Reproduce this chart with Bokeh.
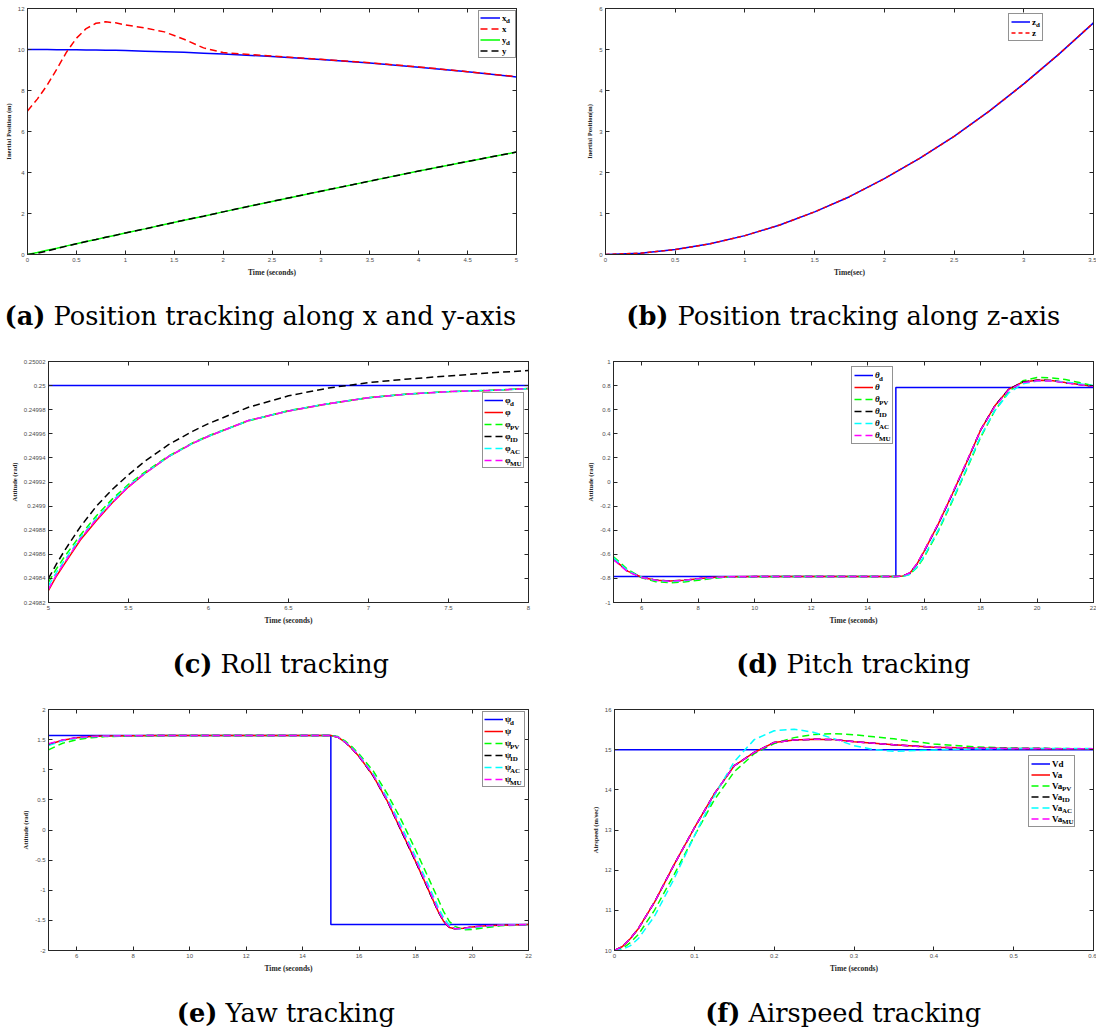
from bokeh.plotting import figure
from bokeh.models import (Range1d, FixedTicker, CustomJSTickFormatter, LinearAxis,
                          Legend, LegendItem, Label)
from bokeh.layouts import column, row
from bokeh.core.properties import value
from bokeh.embed import file_html
from bokeh.resources import INLINE

# ---------------- data ----------------
# (a) position tracking x / y
ta = [0, 0.1, 0.2, 0.3, 0.4, 0.5, 0.6, 0.7, 0.8, 0.9, 1.0, 1.2, 1.4, 1.6, 1.8, 2.0, 2.5, 3.0, 3.5, 4.0, 4.5, 5.0]
xd = [10.0, 10.0, 10.0, 9.99, 9.99, 9.99, 9.98, 9.97, 9.96, 9.96, 9.95, 9.92, 9.89, 9.86, 9.82, 9.78, 9.66, 9.51, 9.34, 9.14, 8.91, 8.66]
xa = [7.0, 7.58, 8.25, 9.05, 9.88, 10.55, 11.02, 11.28, 11.35, 11.3, 11.2, 11.05, 10.86, 10.5, 10.08, 9.85, 9.68, 9.52, 9.35, 9.15, 8.92, 8.67]
yd = [0, 0.1, 0.21, 0.31, 0.42, 0.52, 0.63, 0.73, 0.84, 0.94, 1.05, 1.25, 1.46, 1.67, 1.87, 2.08, 2.59, 3.09, 3.58, 4.07, 4.54, 5.0]
ya = [0, 0.06, 0.17, 0.29, 0.41, 0.52, 0.63, 0.73, 0.84, 0.94, 1.05, 1.25, 1.46, 1.67, 1.87, 2.08, 2.59, 3.09, 3.58, 4.07, 4.54, 5.0]
a_xticks = [0, 0.5, 1, 1.5, 2, 2.5, 3, 3.5, 4, 4.5, 5]
a_yticks = [0, 2, 4, 6, 8, 10, 12]

# (b) position tracking z  (values in units of 1e-3 m)
tb = [0, 0.25, 0.5, 0.75, 1, 1.25, 1.5, 1.75, 2, 2.25, 2.5, 2.75, 3, 3.25, 3.5]
zd_e3 = [0, 0.03, 0.12, 0.26, 0.46, 0.72, 1.04, 1.41, 1.85, 2.34, 2.88, 3.49, 4.16, 4.88, 5.65]
za_e3 = [0, 0.03, 0.12, 0.26, 0.46, 0.72, 1.04, 1.41, 1.85, 2.34, 2.88, 3.49, 4.16, 4.88, 5.65]
b_xticks = [0, 0.5, 1, 1.5, 2, 2.5, 3, 3.5]
b_yticks = [0, 1, 2, 3, 4, 5, 6]

# (c) roll tracking
tc = [5, 5.05, 5.1, 5.2, 5.3, 5.4, 5.5, 5.6, 5.75, 5.9, 6, 6.25, 6.5, 6.75, 7, 7.25, 7.5, 7.75, 8]
phid_t = [5, 8]
phid = [0.25, 0.25]
phi = [0.24983, 0.249842, 0.249852, 0.249872, 0.249888, 0.249903, 0.249916, 0.249927, 0.249941, 0.249952,
       0.249958, 0.249971, 0.249979, 0.249985, 0.24999, 0.249993, 0.249995, 0.249996, 0.2499975]
phi_pv = [0.249837, 0.249848, 0.249858, 0.249876, 0.249892, 0.249906, 0.249918, 0.249928, 0.2499415, 0.2499525,
          0.2499585, 0.2499707, 0.2499793, 0.249985, 0.24999, 0.249993, 0.249995, 0.249996, 0.2499975]
phi_id = [0.24984, 0.249852, 0.249863, 0.249883, 0.2499, 0.249914, 0.249926, 0.249937, 0.249951, 0.249962,
          0.2499685, 0.249982, 0.2499915, 0.249998, 0.2500025, 0.2500055, 0.250008, 0.2500105, 0.2500125]
phi_ac = [0.249834, 0.249845, 0.249855, 0.249874, 0.24989, 0.2499045, 0.249917, 0.249927, 0.249941, 0.249952,
          0.249958, 0.249971, 0.249979, 0.249985, 0.24999, 0.249993, 0.249995, 0.249996, 0.2499975]
phi_mu = [0.249831, 0.249843, 0.249853, 0.249873, 0.249889, 0.249903, 0.249916, 0.249927, 0.249941, 0.249952,
          0.249958, 0.249971, 0.249979, 0.249985, 0.24999, 0.249993, 0.249995, 0.249996, 0.2499975]
c_xticks = [5, 5.5, 6, 6.5, 7, 7.5, 8]
c_yticks = [0.24982, 0.24984, 0.24986, 0.24988, 0.2499, 0.24992, 0.24994, 0.24996, 0.24998, 0.25, 0.25002]

# (d) pitch tracking
td = [5, 5.5, 6, 6.5, 7, 7.5, 8, 8.5, 9, 10, 11, 12, 13, 14, 15, 15.25, 15.5, 15.75, 16, 16.5, 17, 17.5,
      18, 18.5, 19, 19.5, 20, 20.5, 21, 21.5, 22]
thd_t = [5, 15, 15, 22]
thd = [-0.785, -0.785, 0.785, 0.785]
th = [-0.64, -0.74, -0.79, -0.815, -0.822, -0.815, -0.802, -0.792, -0.787, -0.785, -0.785, -0.785, -0.785, -0.785,
      -0.785, -0.78, -0.755, -0.68, -0.575, -0.35, -0.1, 0.16, 0.43, 0.63, 0.77, 0.83, 0.845, 0.842, 0.825, 0.81, 0.795]
th_pv = [-0.62, -0.725, -0.795, -0.828, -0.836, -0.83, -0.815, -0.8, -0.79, -0.786, -0.785, -0.785, -0.785, -0.785,
         -0.785, -0.783, -0.765, -0.71, -0.625, -0.41, -0.16, 0.1, 0.37, 0.59, 0.75, 0.84, 0.868, 0.865, 0.85, 0.825, 0.8]
th_id = [-0.64, -0.74, -0.79, -0.815, -0.822, -0.815, -0.802, -0.792, -0.787, -0.785, -0.785, -0.785, -0.785, -0.785,
         -0.785, -0.78, -0.755, -0.68, -0.575, -0.35, -0.1, 0.16, 0.43, 0.63, 0.77, 0.83, 0.845, 0.842, 0.825, 0.81, 0.795]
th_ac = [-0.63, -0.735, -0.79, -0.818, -0.826, -0.82, -0.806, -0.795, -0.788, -0.785, -0.785, -0.785, -0.785, -0.785,
         -0.785, -0.783, -0.765, -0.705, -0.615, -0.4, -0.15, 0.11, 0.38, 0.59, 0.74, 0.815, 0.838, 0.84, 0.83, 0.815, 0.8]
th_mu = [-0.645, -0.745, -0.792, -0.816, -0.823, -0.816, -0.803, -0.792, -0.787, -0.785, -0.785, -0.785, -0.785, -0.785,
         -0.785, -0.78, -0.753, -0.678, -0.572, -0.345, -0.095, 0.165, 0.43, 0.625, 0.765, 0.825, 0.84, 0.838, 0.823, 0.808, 0.795]
d_xticks = [6, 8, 10, 12, 14, 16, 18, 20, 22]
d_yticks = [-1, -0.8, -0.6, -0.4, -0.2, 0, 0.2, 0.4, 0.6, 0.8, 1]

# (e) yaw tracking
te = [5, 5.5, 6, 6.5, 7, 8, 9, 10, 12, 14, 15, 15.25, 15.5, 15.75, 16, 16.5, 17, 17.5, 18, 18.5, 18.8, 19, 19.2,
      19.4, 19.7, 20, 20.5, 21, 22]
psd_t = [5, 15, 15, 22]
psd = [1.57, 1.57, -1.57, -1.57]
ps = [1.42, 1.49, 1.53, 1.55, 1.56, 1.565, 1.568, 1.57, 1.57, 1.57, 1.57, 1.54, 1.46, 1.35, 1.22, 0.9, 0.48, -0.02,
      -0.52, -1.04, -1.35, -1.52, -1.62, -1.64, -1.63, -1.61, -1.59, -1.58, -1.57]
ps_pv = [1.33, 1.44, 1.5, 1.53, 1.55, 1.562, 1.567, 1.57, 1.57, 1.57, 1.57, 1.55, 1.48, 1.38, 1.26, 0.98, 0.6, 0.16,
         -0.33, -0.84, -1.15, -1.36, -1.52, -1.6, -1.655, -1.65, -1.62, -1.59, -1.57]
ps_id = [1.42, 1.49, 1.53, 1.55, 1.56, 1.565, 1.568, 1.57, 1.57, 1.57, 1.57, 1.54, 1.46, 1.35, 1.22, 0.9, 0.48, -0.02,
         -0.52, -1.04, -1.35, -1.52, -1.62, -1.64, -1.63, -1.61, -1.59, -1.58, -1.57]
ps_ac = [1.4, 1.48, 1.525, 1.548, 1.558, 1.565, 1.568, 1.57, 1.57, 1.57, 1.57, 1.545, 1.465, 1.36, 1.24, 0.93, 0.53,
         0.06, -0.44, -0.96, -1.28, -1.46, -1.58, -1.635, -1.645, -1.62, -1.6, -1.58, -1.57]
ps_mu = [1.43, 1.495, 1.532, 1.551, 1.56, 1.565, 1.568, 1.57, 1.57, 1.57, 1.57, 1.54, 1.46, 1.35, 1.225, 0.91, 0.49,
         0.0, -0.5, -1.02, -1.34, -1.51, -1.615, -1.64, -1.63, -1.61, -1.59, -1.58, -1.57]
e_xticks = [6, 8, 10, 12, 14, 16, 18, 20, 22]
e_yticks = [-2, -1.5, -1, -0.5, 0, 0.5, 1, 1.5, 2]

# (f) airspeed tracking
tf = [0, 0.01, 0.02, 0.03, 0.05, 0.075, 0.1, 0.125, 0.15, 0.175, 0.2, 0.225, 0.25, 0.275, 0.3, 0.325, 0.35, 0.4,
      0.45, 0.5, 0.55, 0.6]
vd_t = [0, 0.6]
vd = [15, 15]
va = [10.0, 10.1, 10.3, 10.55, 11.2, 12.15, 13.05, 13.9, 14.6, 14.93, 15.18, 15.24, 15.26, 15.25, 15.2, 15.16, 15.12,
      15.06, 15.04, 15.03, 15.025, 15.02]
va_pv = [10.0, 10.05, 10.2, 10.4, 11.0, 11.9, 12.85, 13.75, 14.45, 14.9, 15.15, 15.3, 15.38, 15.4, 15.37, 15.32, 15.27,
         15.14, 15.07, 15.04, 15.03, 15.02]
va_id = [10.0, 10.1, 10.3, 10.55, 11.2, 12.15, 13.05, 13.9, 14.6, 14.93, 15.18, 15.24, 15.26, 15.25, 15.2, 15.16, 15.12,
         15.06, 15.04, 15.03, 15.025, 15.02]
va_ac = [10.0, 10.03, 10.12, 10.3, 10.85, 11.8, 12.85, 13.85, 14.7, 15.25, 15.47, 15.51, 15.43, 15.27, 15.1, 15.0,
         14.96, 14.99, 15.02, 15.03, 15.03, 15.03]
va_mu = [10.0, 10.1, 10.3, 10.55, 11.2, 12.15, 13.05, 13.9, 14.6, 14.93, 15.18, 15.24, 15.26, 15.25, 15.2, 15.16, 15.12,
         15.06, 15.04, 15.03, 15.025, 15.02]
f_xticks = [0, 0.1, 0.2, 0.3, 0.4, 0.5, 0.6]
f_yticks = [10, 11, 12, 13, 14, 15, 16]

# ---------------- styling helpers ----------------
BLUE, RED, GREEN, BLACK, CYAN, MAGENTA = "#0000ff", "#ff0000", "#00ff00", "#000000", "#00ffff", "#ff00ff"
AX = "#262626"
TICKC = "#4d4d4d"
DASH = "7 4"
LW = 1.5
FMT = "return parseFloat(tick.toFixed(6)).toString();"
SERIF = "Liberation Serif"
CAP_FONT = "DejaVu Serif"
CAP_SIZE = "25.7px"


def style_axis(ax):
    ax.axis_line_color = AX
    ax.axis_line_width = 1
    ax.major_tick_line_color = AX
    ax.major_tick_in = 4
    ax.major_tick_out = 0
    ax.minor_tick_line_color = None
    ax.major_label_text_font = "Liberation Sans"
    ax.major_label_text_font_size = "6px"
    ax.major_label_text_color = TICKC
    ax.major_label_standoff = 3
    ax.axis_label_text_font = SERIF
    ax.axis_label_text_font_style = "bold"
    ax.axis_label_text_color = AX
    ax.axis_label_standoff = 3


def panel(W, H, fl, fr, ft, fb, xr, yr, xt, yt, xlab, ylab):
    p = figure(width=W, height=H, x_range=Range1d(*xr), y_range=Range1d(*yr),
               min_border_left=fl, min_border_right=W - fr, min_border_top=ft,
               min_border_bottom=H - fb, output_backend="svg", toolbar_location=None)
    p.grid.visible = False
    p.outline_line_color = AX
    p.background_fill_color = "white"
    p.border_fill_color = "white"
    p.xaxis.ticker = FixedTicker(ticks=xt)
    p.yaxis.ticker = FixedTicker(ticks=yt)
    p.xaxis.formatter = CustomJSTickFormatter(code=FMT)
    p.yaxis.formatter = CustomJSTickFormatter(code=FMT)
    for ax in (p.xaxis[0], p.yaxis[0]):
        style_axis(ax)
    p.xaxis.axis_label = xlab
    p.yaxis.axis_label = ylab
    p.xaxis.axis_label_text_font_size = "7.5px"
    p.yaxis.axis_label_text_font_size = "6.5px"
    for place, ticks in (("above", xt), ("right", yt)):
        ax = LinearAxis(ticker=FixedTicker(ticks=ticks), formatter=CustomJSTickFormatter(code="return '';"))
        style_axis(ax)
        ax.major_label_standoff = 0
        ax.major_label_text_font_size = "1px"
        p.add_layout(ax, place)
    return p


def add_legend(p, rends, mains, subs, loc, P, G, S, h, Lm, dx, main_style="bold", dy=2.5):
    items = [LegendItem(label=value(m), renderers=[r]) for m, r in zip(mains, rends)]
    leg = Legend(items=items, location=loc, padding=P, spacing=0, margin=0,
                 glyph_width=G, glyph_height=h, label_height=h, label_width=Lm, label_standoff=S,
                 label_text_font=SERIF, label_text_font_size="9px", label_text_font_style=main_style,
                 label_text_color="black",
                 border_line_color=AX, border_line_width=1,
                 background_fill_color="white", background_fill_alpha=1.0)
    p.add_layout(leg)
    dummy = p.line(x=[], y=[], line_alpha=0)
    sitems = [LegendItem(label=value(s), renderers=[dummy]) for s in subs]
    sleg = Legend(items=sitems, location=(loc[0], loc[1] - dy), padding=P, spacing=0, margin=0,
                  glyph_width=G, glyph_height=h, label_height=h, label_width=1,
                  label_standoff=int(round(S + dx)),
                  label_text_font=SERIF, label_text_font_size="7px", label_text_font_style="bold",
                  label_text_color="black",
                  border_line_alpha=0, background_fill_alpha=0)
    p.add_layout(sleg)


def caption(W, H, yc, bold, rest, x_bold_end, x_rest):
    c = figure(width=W, height=H, x_range=Range1d(0, W), y_range=Range1d(0, H),
               output_backend="svg", toolbar_location=None, min_border=0,
               x_axis_location=None, y_axis_location=None)
    c.outline_line_color = None
    c.grid.visible = False
    c.add_layout(Label(x=x_bold_end, y=H - yc, text=bold, text_align="right", text_baseline="middle",
                       text_font=CAP_FONT, text_font_style="bold", text_font_size=CAP_SIZE,
                       text_color="black"))
    c.add_layout(Label(x=x_rest, y=H - yc, text=rest, text_align="left", text_baseline="middle",
                       text_font=CAP_FONT, text_font_style="normal", text_font_size=CAP_SIZE,
                       text_color="black"))
    return c


def curves(p, t, series):
    out = []
    for ys, col, dash in series:
        out.append(p.line(t, ys, line_color=col, line_width=LW, line_dash=dash))
    return out


SUBS6 = ["d", "", "PV", "ID", "AC", "MU"]

# ---------------- (a) ----------------
fa = panel(548, 282, 27, 516, 6, 254, (0, 5), (0, 12), a_xticks, a_yticks,
           "Time (seconds)", "Inertial Position (m)")
ra = curves(fa, ta, [(xd, BLUE, "solid"), (xa, RED, DASH), (yd, GREEN, "solid"), (ya, BLACK, DASH)])
add_legend(fa, ra, ["x", "x", "y", "y"], ["d", "", "d", ""], (451, 196), 1, 20, 2, 11, 12, 5)

# ---------------- (b) ----------------
fb = panel(548, 282, 57, 545, 8, 256, (0, 3.5), (0, 6), b_xticks, b_yticks,
           "Time(sec)", "Inertial Position(m)")
rb = [fb.line(tb, zd_e3, line_color=BLUE, line_width=LW),
      fb.line(tb, za_e3, line_color=RED, line_width=LW, line_dash="4 3")]
add_legend(fb, rb, ["z", "z"], ["d", ""], (403, 213), 2, 19, 2, 11, 8, 5)
fb.add_layout(Label(x=0, y=248, x_units="screen", y_units="screen", text="×10⁻³",
                    text_font="Liberation Sans", text_font_size="6px", text_color=TICKC,
                    text_baseline="bottom"))

# ---------------- (c) ----------------
fc = panel(548, 290, 48, 528, 15, 257, (5, 8), (0.24982, 0.25002), c_xticks, c_yticks,
           "Time (seconds)", "Attitude (rad)")
rc = [fc.line(phid_t, phid, line_color=BLUE, line_width=LW)]
rc += curves(fc, tc, [(phi, RED, "solid"), (phi_pv, GREEN, DASH), (phi_id, BLACK, DASH),
                      (phi_ac, CYAN, DASH), (phi_mu, MAGENTA, DASH)])
add_legend(fc, rc, ["φ"] * 6, SUBS6, (434, 134), 1, 19, 2, 12, 17, 6)

# ---------------- (d) ----------------
fd = panel(548, 290, 65, 545, 16, 258, (5, 22), (-1, 1), d_xticks, d_yticks,
           "Time (seconds)", "Attitude (rad)")
rd = [fd.line(thd_t, thd, line_color=BLUE, line_width=LW)]
rd += curves(fd, td, [(th, RED, "solid"), (th_pv, GREEN, DASH), (th_id, BLACK, DASH),
                      (th_ac, CYAN, DASH), (th_mu, MAGENTA, DASH)])
add_legend(fd, rd, ["θ"] * 6, SUBS6, (238, 158), 2, 19, 2, 12, 15, 5, main_style="bold italic")

# ---------------- (e) ----------------
fe = panel(548, 290, 48, 528, 14, 255, (5, 22), (-2, 2), e_xticks, e_yticks,
           "Time (seconds)", "Attitude (rad)")
re_ = [fe.line(psd_t, psd, line_color=BLUE, line_width=LW)]
re_ += curves(fe, te, [(ps, RED, "solid"), (ps_pv, GREEN, DASH), (ps_id, BLACK, DASH),
                       (ps_ac, CYAN, DASH), (ps_mu, MAGENTA, DASH)])
add_legend(fe, re_, ["ψ"] * 6, SUBS6, (434, 163), 1, 19, 2, 12, 18, 6)

# ---------------- (f) ----------------
ff = panel(548, 290, 66, 545, 14, 257, (0, 0.6), (10, 16), f_xticks, f_yticks,
           "Time (seconds)", "Airspeed (m/sec)")
rf = [ff.line(vd_t, vd, line_color=BLUE, line_width=LW)]
rf += curves(ff, tf, [(va, RED, "solid"), (va_pv, GREEN, DASH), (va_id, BLACK, DASH),
                      (va_ac, CYAN, DASH), (va_mu, MAGENTA, DASH)])
add_legend(ff, rf, ["Vd", "Va", "Va", "Va", "Va", "Va"], ["", "", "PV", "ID", "AC", "MU"],
           (414, 123), 2, 19, 2, 11, 20, 11)

# ---------------- captions ----------------
ca = caption(548, 63, 33, "(a)", "Position tracking along x and y-axis", 45, 53)
cb = caption(548, 63, 33, "(b)", "Position tracking along z-axis", 668 - 548, 677 - 548)
cc = caption(548, 60, 28, "(c)", "Roll tracking", 212, 220)
cd = caption(548, 60, 28, "(d)", "Pitch tracking", 778 - 548, 786 - 548)
ce = caption(548, 47, 27, "(e)", "Yaw tracking", 217, 225)
cf = caption(548, 47, 27, "(f)", "Airspeed tracking", 740 - 548, 748 - 548)

layout = column(row(fa, fb), row(ca, cb), row(fc, fd), row(cc, cd), row(fe, ff), row(ce, cf))

open("out.html", "w").write(file_html(layout, INLINE))
